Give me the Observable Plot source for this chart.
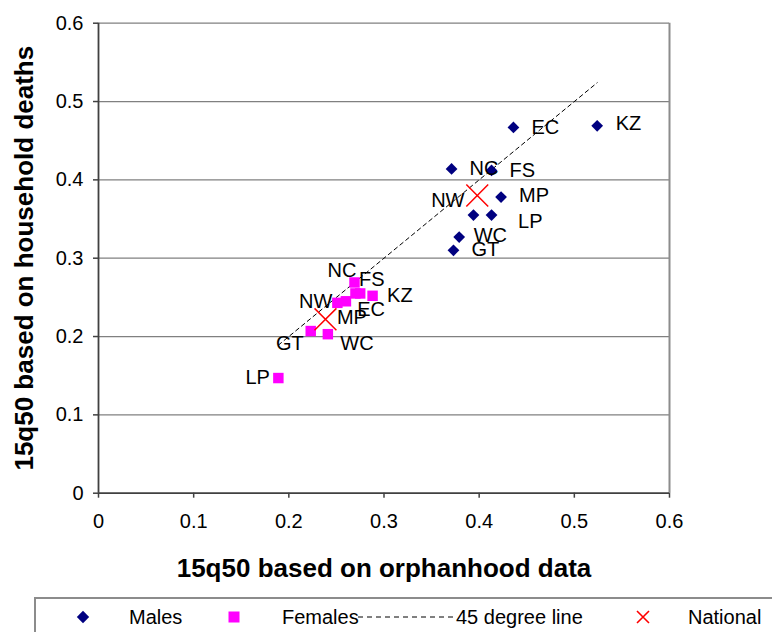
<!DOCTYPE html>
<html>
<head>
<meta charset="utf-8">
<script src="https://cdn.jsdelivr.net/npm/d3@7"></script>
<script src="https://cdn.jsdelivr.net/npm/@observablehq/plot@0.6"></script>
<style>
  html, body { margin: 0; padding: 0; background: #fff; overflow: hidden; }
  body { width: 772px; height: 632px; font-family: "Liberation Sans", Arial, sans-serif; }
  #chart svg { display: block; }
  #legend { position: relative; margin-left: 34px; width: 738px; height: 35px;
            border-top: 2px solid #8c8c8c; border-left: 2px solid #8c8c8c; box-sizing: border-box; }
  #legend .item { position: absolute; top: 0; height: 35px; display: flex; align-items: center; }
  #legend .lbl { font-size: 20px; color: #000; white-space: nowrap; line-height: 1; }
</style>
</head>
<body>
<div id="chart"></div>
<div id="legend"></div>
<script>
// ---------- data ----------
const maleProvinces = ["NC", "EC", "KZ", "FS", "MP", "NW", "LP", "WC", "GT"];
const maleOrphanhood = [0.371, 0.436, 0.524, 0.413, 0.423, 0.394, 0.413, 0.379, 0.373];
const maleHousehold  = [0.414, 0.467, 0.469, 0.412, 0.378, 0.355, 0.355, 0.327, 0.310];

const femaleProvinces = ["NC", "FS", "EC", "KZ", "MP", "NW", "GT", "WC", "LP"];
const femaleOrphanhood = [0.269, 0.270, 0.275, 0.288, 0.260, 0.251, 0.223, 0.241, 0.189];
const femaleHousehold  = [0.269, 0.255, 0.255, 0.252, 0.245, 0.243, 0.207, 0.203, 0.147];

const nationalGroups = ["Males", "Females"];
const nationalOrphanhood = [0.398, 0.2385];
const nationalHousehold  = [0.380, 0.222];

const xTicks = [0, 0.1, 0.2, 0.3, 0.4, 0.5, 0.6];
const yTicks = [0, 0.1, 0.2, 0.3, 0.4, 0.5, 0.6];

const xTitle = "15q50 based on orphanhood data";
const yTitle = "15q50 based on household deaths";
const legendLabels = ["Males", "Females", "45 degree line", "National"];

// ---------- tables built from arrays ----------
const males = maleProvinces.map((p, i) => ({p, x: maleOrphanhood[i], y: maleHousehold[i]}));
const females = femaleProvinces.map((p, i) => ({p, x: femaleOrphanhood[i], y: femaleHousehold[i]}));
const national = nationalGroups.map((g, i) => ({g, x: nationalOrphanhood[i], y: nationalHousehold[i]}));
const allX = maleOrphanhood.concat(femaleOrphanhood);
const [lo, hi] = d3.extent(allX);
const diagonal = [lo, hi].map(v => ({x: v, y: v}));

// label placement (style only): [anchor, dx, dy]
const maleLabelPlace = {
  NC: ["start", 18, 0], EC: ["start", 18, 0], KZ: ["start", 18.5, -2], FS: ["start", 18, 0],
  MP: ["start", 18, -1.5], LP: ["start", 26.5, 6.5], NW: ["end", -9, -15], WC: ["start", 14.5, -1.5],
  GT: ["start", 18, -0.5]
};
const femaleLabelPlace = {
  NC: ["end", 2, -11.5], FS: ["start", 3.5, -13.5], EC: ["start", -3, 16.5], KZ: ["start", 14.5, 0],
  MP: ["start", -9, 16], NW: ["end", -5, -1], GT: ["end", -7, 12.5], WC: ["start", 12.5, 9.5],
  LP: ["end", -8.5, -0.5]
};

function labelMarks(rows, place) {
  return rows.map(r => {
    const [anchor, dx, dy] = place[r.p];
    return Plot.text([r], {x: "x", y: "y", text: "p", textAnchor: anchor, dx, dy,
      fontSize: 20, fill: "#000", lineAnchor: "middle"});
  });
}

const fmt = d => String(d);

const chart = Plot.plot({
  width: 772,
  height: 597,
  marginLeft: 98,
  marginRight: 103,
  marginTop: 22.7,
  marginBottom: 104.3,
  x: {domain: [0, 0.6]},
  y: {domain: [0, 0.6]},
  style: {fontFamily: "'Liberation Sans', Arial, sans-serif", fontSize: "20px", background: "#fff", overflow: "visible"},
  marks: [
    Plot.ruleY(yTicks.filter(d => d > 0), {stroke: "#808080", strokeWidth: 1.3, strokeOpacity: 1}),
    Plot.ruleX([0.6], {stroke: "#8c8c8c", strokeWidth: 2, strokeOpacity: 1}),
    Plot.axisX({ticks: xTicks, tickFormat: fmt, tickSize: 5, tickPadding: 16, fontSize: 20,
      label: null, stroke: "#404040", strokeWidth: 1.5, fill: "#000"}),
    Plot.axisY({ticks: yTicks, tickFormat: fmt, tickSize: 5, tickPadding: 10, fontSize: 20,
      label: null, stroke: "#404040", strokeWidth: 1.5, fill: "#000"}),
    Plot.ruleX([0], {stroke: "#404040", strokeWidth: 1.8, strokeOpacity: 1}),
    Plot.ruleY([0], {stroke: "#404040", strokeWidth: 1.8, strokeOpacity: 1}),
    Plot.line(diagonal, {x: "x", y: "y", stroke: "#000", strokeWidth: 1, strokeDasharray: "4,3.5"}),
    Plot.dot(males, {x: "x", y: "y", symbol: "diamond2", r: 5.3, fill: "#000080", stroke: "none"}),
    Plot.dot(females, {x: "x", y: "y", symbol: "square", r: 5.9, fill: "#ff00ff", stroke: "none"}),
    Plot.dot(national, {x: "x", y: "y", symbol: "times", r: 10, stroke: "#ff0000", strokeWidth: 1.5, fill: "none"}),
    ...labelMarks(males, maleLabelPlace),
    ...labelMarks(females, femaleLabelPlace),
    Plot.text([xTitle], {frameAnchor: "bottom", textAnchor: "middle", dy: 84, fontSize: 26, fontWeight: "bold", fill: "#000"}),
    Plot.text([yTitle], {frameAnchor: "left", textAnchor: "middle", rotate: -90, dx: -74, fontSize: 26, fontWeight: "bold", fill: "#000"})
  ]
});
document.getElementById("chart").appendChild(chart);

// ---------- legend below the chart ----------
const legend = document.getElementById("legend");
const legendSymbols = [
  `<svg width="14" height="14" viewBox="-7 -7 14 14"><path d="M0,-6.2L6.2,0L0,6.2L-6.2,0Z" fill="#000080"/></svg>`,
  `<svg width="12" height="12" viewBox="-6 -6 12 12"><rect x="-5.5" y="-5.5" width="11" height="11" fill="#ff00ff"/></svg>`,
  `<svg width="96" height="4" viewBox="0 0 96 4"><line x1="0" y1="2" x2="96" y2="2" stroke="#000" stroke-width="1" stroke-dasharray="5,4"/></svg>`,
  `<svg width="14" height="14" viewBox="-7 -7 14 14"><path d="M-6,-6L6,6M-6,6L6,-6" stroke="#ff0000" stroke-width="1.6" fill="none"/></svg>`
];
const symbolLeft = [40, 192, 322, 600];
const textLeft = [93, 246, 420, 652];
legendLabels.forEach((t, i) => {
  const s = document.createElement("div");
  s.className = "item";
  s.style.left = symbolLeft[i] + "px";
  s.innerHTML = legendSymbols[i];
  legend.appendChild(s);
  const l = document.createElement("div");
  l.className = "item";
  l.style.left = textLeft[i] + "px";
  l.innerHTML = `<span class="lbl">${t}</span>`;
  legend.appendChild(l);
});
</script>
</body>
</html>
